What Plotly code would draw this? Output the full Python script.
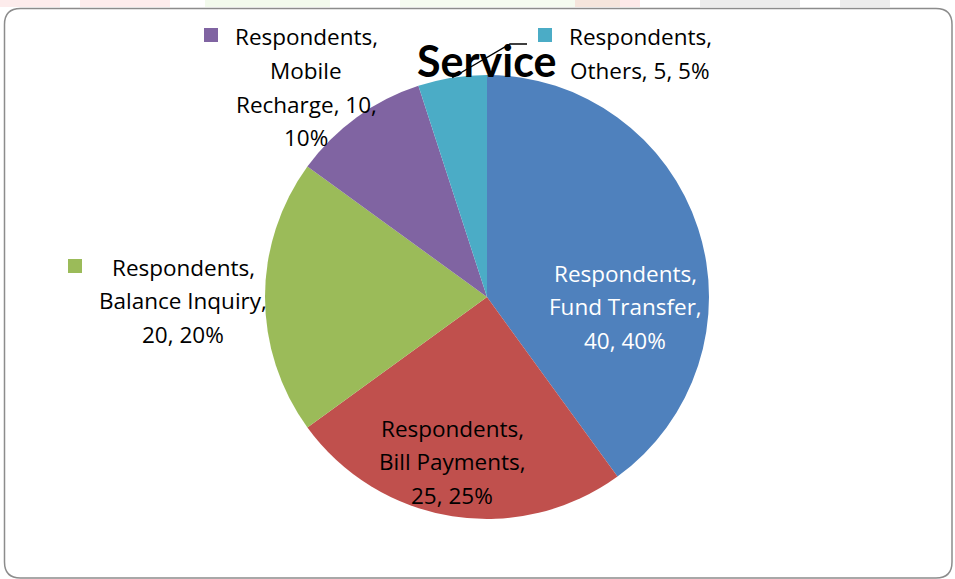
import plotly.graph_objects as go
import math

# ---- data ----
series_name = "Respondents"
categories = ["Fund Transfer", "Bill Payments", "Balance Inquiry", "Mobile Recharge", "Others"]
values = [40, 25, 20, 10, 5]
colors = ["#4F81BD", "#C0504D", "#9BBB59", "#8064A2", "#4BACC6"]
title_text = "Service"

W, H = 955, 579
cx, cy, R = 487, 297, 222  # pie centre / radius in pixels


def px(x):
    return x / W


def py(y):
    return 1 - y / H


fig = go.Figure()
fig.add_trace(go.Pie(
    labels=categories,
    values=values,
    marker=dict(colors=colors, line=dict(width=0)),
    sort=False,
    direction="clockwise",
    rotation=0,
    textinfo="none",
    hoverinfo="label+value+percent",
    showlegend=False,
    domain=dict(x=[px(cx - R), px(cx + R)], y=[py(cy + R), py(cy - R)]),
))

total = sum(values)
pct = [round(v * 100 / total) for v in values]

FONT = "Open Sans"
FS = 22.5
LS = 33.5

label_specs = [
    (0, [f"{series_name},", f"{categories[0]},", f"{values[0]}, {pct[0]}%"], 625, 273, "white", None),
    (1, [f"{series_name},", f"{categories[1]},", f"{values[1]}, {pct[1]}%"], 452, 428, "black", None),
    (2, [f"{series_name},", f"{categories[2]},", f"{values[2]}, {pct[2]}%"], 183, 267, "black", (75, 266)),
    (3, [f"{series_name},", "Mobile", f"Recharge, {values[3]},", f"{pct[3]}%"], 306, 37, "black", (211, 35)),
    (4, [f"{series_name},", f"{categories[4]}, {values[4]}, {pct[4]}%"], 640, 37, "black", (545, 35)),
]

annotations = []
shapes = []

# faint background watermark fragments along the top edge
for (a, b, col) in [(0, 60, "rgba(245,150,150,0.18)"), (80, 170, "rgba(245,150,150,0.18)"),
                    (205, 330, "rgba(170,220,130,0.15)"), (400, 620, "rgba(170,220,130,0.12)"),
                    (575, 640, "rgba(245,150,150,0.22)"), (700, 800, "rgba(170,170,170,0.22)"),
                    (840, 890, "rgba(170,170,170,0.22)")]:
    shapes.append(dict(type="rect", xref="paper", yref="paper", x0=px(a), x1=px(b), y0=py(7), y1=py(0),
                       fillcolor=col, line=dict(width=0), layer="below"))

# rounded border
x0, y0, x1, y1, r = 4.5, 8.5, 952, 578, 16
path = (f"M {px(x0 + r)},{py(y0)} L {px(x1 - r)},{py(y0)} Q {px(x1)},{py(y0)} {px(x1)},{py(y0 + r)} "
        f"L {px(x1)},{py(y1 - r)} Q {px(x1)},{py(y1)} {px(x1 - r)},{py(y1)} "
        f"L {px(x0 + r)},{py(y1)} Q {px(x0)},{py(y1)} {px(x0)},{py(y1 - r)} "
        f"L {px(x0)},{py(y0 + r)} Q {px(x0)},{py(y0)} {px(x0 + r)},{py(y0)} Z")
shapes.append(dict(type="path", xref="paper", yref="paper", path=path,
                   line=dict(color="#8C8C8C", width=1.5), layer="below"))

for idx, lines, lx, ly, col, key in label_specs:
    for i, t in enumerate(lines):
        annotations.append(dict(x=px(lx), y=py(ly + i * LS), xref="paper", yref="paper", text=t,
                                showarrow=False, xanchor="center", yanchor="middle",
                                font=dict(family=FONT, size=FS, color=col)))
    if key is not None:
        kx, ky = key
        shapes.append(dict(type="rect", xref="paper", yref="paper", x0=px(kx - 7), x1=px(kx + 7),
                           y0=py(ky + 7), y1=py(ky - 7), fillcolor=colors[idx], line=dict(width=0)))

# leader line for the small "Others" slice
cum = sum(values[:4]) + values[4] / 2
ang = 2 * math.pi * cum / total
sx, sy = cx + R * math.sin(ang), cy - R * math.cos(ang)
shapes.append(dict(type="path", xref="paper", yref="paper",
                   path=f"M {px(sx)},{py(sy)} L {px(510)},{py(44)} L {px(527)},{py(44)}",
                   line=dict(color="black", width=1.3)))

annotations.append(dict(x=px(486), y=py(60), xref="paper", yref="paper", text=f"<b>{title_text}</b>",
                        showarrow=False, xanchor="center", yanchor="middle",
                        font=dict(family="Lato", size=43, color="black")))

fig.update_layout(
    width=W, height=H,
    margin=dict(l=0, r=0, t=0, b=0),
    paper_bgcolor="white", plot_bgcolor="white",
    annotations=annotations, shapes=shapes,
)

fig.write_html("out.html", config=dict(displayModeBar=False))
